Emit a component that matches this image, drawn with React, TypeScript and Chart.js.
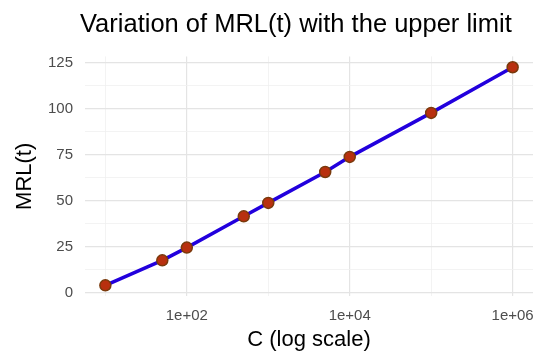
import React, { useEffect, useRef } from "react";
import { Chart, registerables } from "chart.js";

Chart.register(...registerables);

const titleText = "Variation of MRL(t) with the upper limit";
const xAxisTitle = "C (log scale)";
const yAxisTitle = "MRL(t)";

const cValues = [10, 50, 100, 500, 1000, 5000, 10000, 100000, 1000000];
const mrlValues = [4.0, 17.6, 24.5, 41.5, 48.8, 65.6, 73.8, 97.7, 122.5];

const xGridValues = [10, 100, 1000, 10000, 100000, 1000000];
const xLabelValues = [100, 10000, 1000000];
const yGridValues = [0, 12.5, 25, 37.5, 50, 62.5, 75, 87.5, 100, 112.5, 125];
const yLabelValues = [0, 25, 50, 75, 100, 125];

const FONT = "'Liberation Sans', Arial, sans-serif";

function fmtSci(v: number): string {
  const e = Math.round(Math.log10(v));
  return "1e+" + (e < 10 ? "0" + e : String(e));
}

const titleLeftPlugin = {
  id: "titleLeft",
  afterDraw(chart: any) {
    const { ctx } = chart;
    ctx.save();
    ctx.font = "25.5px " + FONT;
    ctx.fillStyle = "#000000";
    ctx.textAlign = "left";
    ctx.textBaseline = "alphabetic";
    ctx.fillText(titleText, 80, 32);
    ctx.restore();
  },
};

export default function App() {
  const ref = useRef<HTMLCanvasElement | null>(null);

  useEffect(() => {
    document.body.style.margin = "0";
    const canvas = ref.current;
    if (!canvas) return;
    const chart = new Chart(canvas, {
      type: "scatter",
      data: {
        datasets: [
          {
            data: cValues.map((c, i) => ({ x: c, y: mrlValues[i] })),
            showLine: true,
            borderColor: "#2200dd",
            borderWidth: 3.5,
            pointRadius: 5.5,
            pointBackgroundColor: "#b8300f",
            pointBorderColor: "#7a3a0c",
            pointBorderWidth: 1.5,
            tension: 0,
          },
        ],
      },
      options: {
        responsive: false,
        animation: false,
        layout: { padding: { left: 12, right: 17, top: 56.4, bottom: 9.8 } },
        plugins: {
          legend: { display: false },
          tooltip: { enabled: false },
          title: { display: false },
        },
        scales: {
          x: {
            type: "logarithmic",
            min: Math.pow(10, 0.75),
            max: Math.pow(10, 6.25),
            border: { display: false },
            grid: {
              drawTicks: false,
              color: (ctx: any) =>
                ctx.tick && xLabelValues.includes(ctx.tick.value) ? "#e4e4e4" : "#f0f0f0",
              lineWidth: (ctx: any) =>
                ctx.tick && xLabelValues.includes(ctx.tick.value) ? 1.2 : 0.8,
            },
            afterBuildTicks: (scale: any) => {
              scale.ticks = xGridValues.map((v) => ({ value: v }));
            },
            afterFit: (scale: any) => {
              scale.height = 57;
            },
            ticks: {
              autoSkip: false,
              maxRotation: 0,
              padding: 11,
              color: "#4d4d4d",
              font: { family: FONT, size: 15 },
              callback: (v: any) => (xLabelValues.includes(Number(v)) ? fmtSci(Number(v)) : ""),
            },
            title: {
              display: true,
              text: xAxisTitle,
              color: "#000000",
              font: { family: FONT, size: 22 },
              padding: { top: 0, bottom: 0 },
            },
          },
          y: {
            type: "linear",
            min: -1.9,
            max: 128.4,
            border: { display: false },
            grid: {
              drawTicks: false,
              color: (ctx: any) =>
                ctx.tick && yLabelValues.includes(ctx.tick.value) ? "#e4e4e4" : "#f0f0f0",
              lineWidth: (ctx: any) =>
                ctx.tick && yLabelValues.includes(ctx.tick.value) ? 1.2 : 0.8,
            },
            afterBuildTicks: (scale: any) => {
              scale.ticks = yGridValues.map((v) => ({ value: v }));
            },
            afterFit: (scale: any) => {
              scale.width = 73;
            },
            ticks: {
              autoSkip: false,
              padding: 12,
              color: "#4d4d4d",
              font: { family: FONT, size: 15 },
              callback: (v: any) => (yLabelValues.includes(Number(v)) ? String(v) : ""),
            },
            title: {
              display: true,
              text: yAxisTitle,
              color: "#000000",
              font: { family: FONT, size: 22 },
              padding: { top: 0, bottom: 0 },
            },
          },
        },
      },
      plugins: [titleLeftPlugin],
    } as any);
    return () => chart.destroy();
  }, []);

  return (
    <div style={{ position: "absolute", left: 0, top: 0, width: 550, height: 363, background: "#ffffff" }}>
      <canvas ref={ref} width={550} height={363} style={{ display: "block", width: 550, height: 363 }} />
    </div>
  );
}
